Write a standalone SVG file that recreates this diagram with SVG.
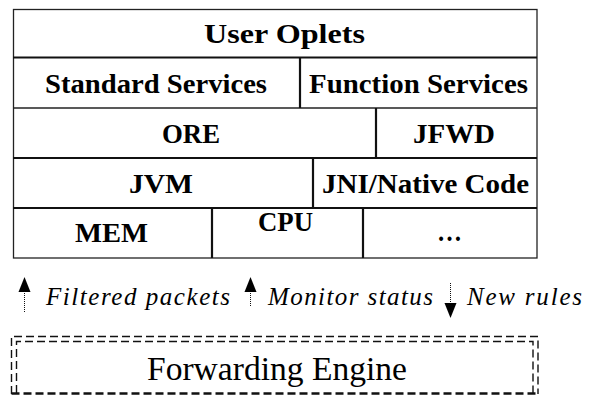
<svg xmlns="http://www.w3.org/2000/svg" width="596" height="398" viewBox="0 0 596 398">
<style>
.thin{stroke:#222;stroke-width:1.3;fill:none}
.thick{stroke:#111;stroke-width:2.2;fill:none}
.dash{stroke:#111;stroke-width:1.4;fill:none;stroke-dasharray:8 4}
.dot{stroke:#111;stroke-width:1;stroke-dasharray:1 1;fill:none}
</style>
<rect width="596" height="398" fill="#fff"/>
<g id="stack-frame">
<rect class="thin" x="13.5" y="9.5" width="523.5" height="248.5"/>
<line class="thick" x1="13" y1="57.5" x2="537" y2="57.5"/>
<line class="thin" x1="13" y1="108" x2="537" y2="108"/>
<line class="thick" x1="13" y1="158" x2="537" y2="158"/>
<line class="thick" x1="13" y1="208" x2="537" y2="208"/>
</g>
<g id="user-oplets"><text font-family="Liberation Serif" font-weight="bold" font-size="27" x="204" y="43" textLength="161" lengthAdjust="spacingAndGlyphs">User Oplets</text></g>
<g id="standard-services"><text font-family="Liberation Serif" font-weight="bold" font-size="27" x="45" y="92.5" textLength="222" lengthAdjust="spacingAndGlyphs">Standard Services</text></g>
<g id="function-services"><line class="thick" x1="300" y1="57.5" x2="300" y2="108"/><text font-family="Liberation Serif" font-weight="bold" font-size="27" x="309" y="92.5" textLength="219" lengthAdjust="spacingAndGlyphs">Function Services</text></g>
<g id="ore"><text font-family="Liberation Serif" font-weight="bold" font-size="27" x="162" y="143" textLength="58" lengthAdjust="spacingAndGlyphs">ORE</text></g>
<g id="jfwd"><line class="thick" x1="376" y1="108" x2="376" y2="158"/><text font-family="Liberation Serif" font-weight="bold" font-size="27" x="413" y="143" textLength="82" lengthAdjust="spacingAndGlyphs">JFWD</text></g>
<g id="jvm"><text font-family="Liberation Serif" font-weight="bold" font-size="27" x="129" y="193" textLength="64" lengthAdjust="spacingAndGlyphs">JVM</text></g>
<g id="jni"><line class="thick" x1="313" y1="158" x2="313" y2="208"/><text font-family="Liberation Serif" font-weight="bold" font-size="27" x="322" y="193" textLength="207" lengthAdjust="spacingAndGlyphs">JNI/Native Code</text></g>
<g id="mem"><text font-family="Liberation Serif" font-weight="bold" font-size="27" x="75" y="242" textLength="73" lengthAdjust="spacingAndGlyphs">MEM</text></g>
<g id="cpu"><line class="thick" x1="212" y1="208" x2="212" y2="258"/><text font-family="Liberation Serif" font-weight="bold" font-size="27" x="258" y="231" textLength="55" lengthAdjust="spacingAndGlyphs">CPU</text></g>
<g id="more"><line class="thick" x1="363" y1="208" x2="363" y2="258"/><text font-family="Liberation Serif" font-weight="bold" font-size="27" x="437" y="241" textLength="25" lengthAdjust="spacingAndGlyphs">…</text></g>
<g id="connectors">
<line class="dot" x1="24.5" y1="291" x2="24.5" y2="312"/>
<polygon points="24.5,277 18.5,292 30.5,292" fill="#000"/>
<line class="dot" x1="250.5" y1="291" x2="250.5" y2="307"/>
<polygon points="250.5,277 244.5,292 256.5,292" fill="#000"/>
<line class="dot" x1="450.5" y1="283" x2="450.5" y2="304"/>
<polygon points="450.5,318 444.5,303 456.5,303" fill="#000"/>
<text font-family="Liberation Serif" font-style="italic" font-size="25" x="46" y="305" textLength="184" lengthAdjust="spacing">Filtered packets</text>
<text font-family="Liberation Serif" font-style="italic" font-size="25" x="268" y="305" textLength="165" lengthAdjust="spacing">Monitor status</text>
<text font-family="Liberation Serif" font-style="italic" font-size="25" x="467" y="305" textLength="115" lengthAdjust="spacing">New rules</text>
</g>
<g id="forwarding-engine">
<path class="dash" d="M11.5,394 V336.5 H538 V394"/>
<path class="dash" d="M16.5,393 V341.5 H533 V393"/>
<line x1="11.5" y1="393.5" x2="538" y2="393.5" stroke="#111" stroke-width="2.4" stroke-dasharray="8 4"/>
<text font-family="Liberation Serif" font-size="33" x="147" y="380" textLength="260" lengthAdjust="spacingAndGlyphs">Forwarding Engine</text>
</g>
</svg>
